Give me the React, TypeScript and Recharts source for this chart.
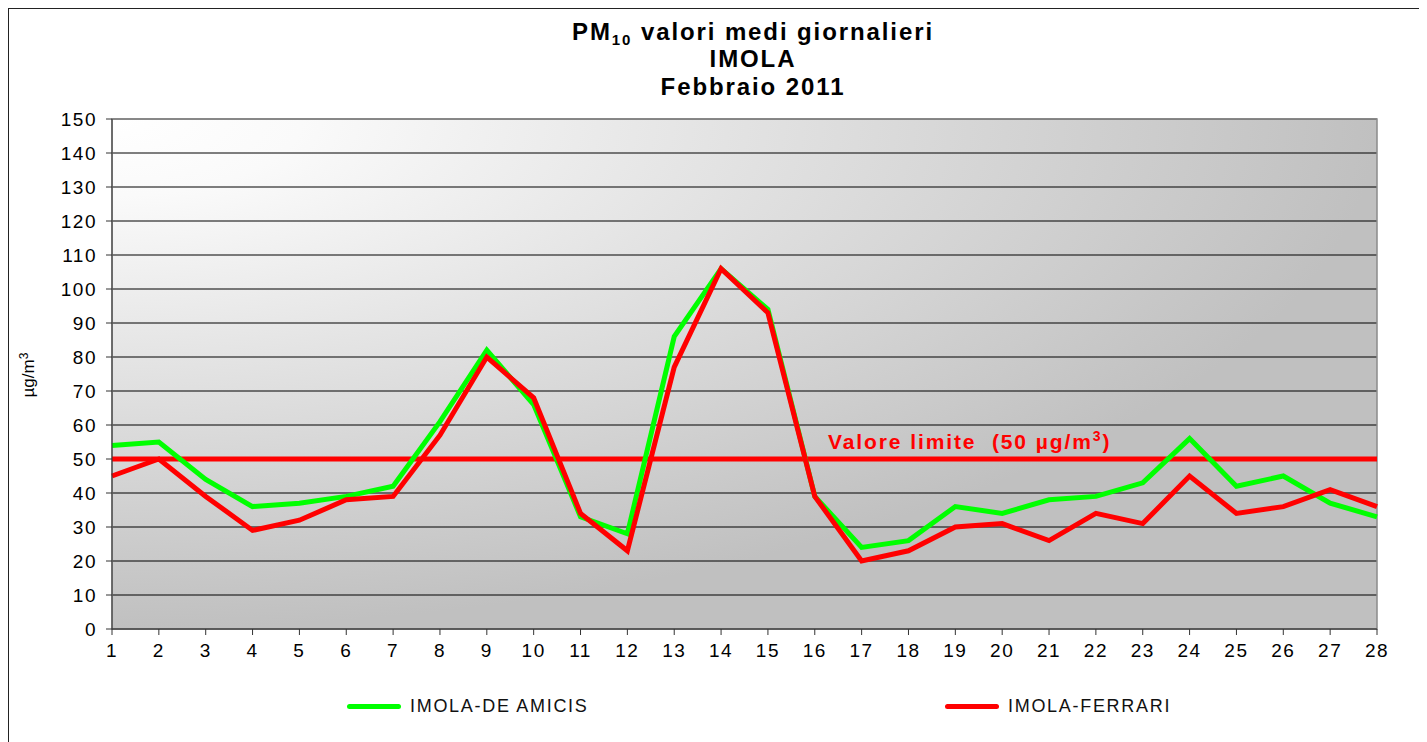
import {
    LineChart, Line, XAxis, YAxis, CartesianGrid, Legend,
    ReferenceLine, ReferenceArea, Customized,
} from 'recharts'

const FONT = '"Liberation Sans", Arial, sans-serif'

const days = [1, 2, 3, 4, 5, 6, 7, 8, 9, 10, 11, 12, 13, 14, 15, 16, 17, 18, 19, 20, 21, 22, 23, 24, 25, 26, 27, 28]
const deAmicis = [54, 55, 44, 36, 37, 39, 42, 61, 82, 66, 33, 28, 86, 106, 94, 39, 24, 26, 36, 34, 38, 39, 43, 56, 42, 45, 37, 33]
const ferrari = [45, 50, 39, 29, 32, 38, 39, 57, 80, 68, 34, 23, 77, 106, 93, 39, 20, 23, 30, 31, 26, 34, 31, 45, 34, 36, 41, 36]
const yTicks = [0, 10, 20, 30, 40, 50, 60, 70, 80, 90, 100, 110, 120, 130, 140, 150]
const LIMIT = 50

const series = [
    { key: 'deAmicis', label: 'IMOLA-DE AMICIS', color: '#00ff00' },
    { key: 'ferrari', label: 'IMOLA-FERRARI', color: '#ff0000' },
]

const data = days.map((d, i) => ({ day: d, deAmicis: deAmicis[i], ferrari: ferrari[i] }))

const W = 1412
const H = 740

function Titles() {
    const t = { textAnchor: 'middle' as const, fontSize: 24, fontWeight: 'bold', letterSpacing: 1.9 }
    return (
        <g fontFamily={FONT} fill="#000">
            <text x={744} y={31} {...t}>
                PM<tspan fontSize={15} dy={5}>10</tspan><tspan dy={-5}> valori medi giornalieri</tspan>
            </text>
            <text x={744} y={58} {...t}>IMOLA</text>
            <text x={744} y={86} {...t}>Febbraio 2011</text>
            <text x={25} y={366} textAnchor="middle" fontSize={17} transform="rotate(-90 25 366)">
                µg/m<tspan fontSize={12} dy={-6}>3</tspan>
            </text>
        </g>
    )
}

function LimitLabel({ viewBox }: any) {
    if (!viewBox) return null
    return (
        <text x={viewBox.x + 716} y={viewBox.y - 10} fill="#ff0000" fontSize={21} fontWeight="bold"
            fontFamily={FONT} letterSpacing={1.9} style={{ whiteSpace: 'pre' }}>
            {'Valore limite  (50 µg/m'}<tspan fontSize={14} dy={-8}>3</tspan><tspan dy={8}>)</tspan>
        </text>
    )
}

function LegendBox() {
    const pos = [338, 936]
    return (
        <div style={{ position: 'relative', width: W, height: 30, fontFamily: FONT }}>
            {series.map((s, i) => (
                <div key={s.key}>
                    <div style={{ position: 'absolute', left: pos[i], top: 13, width: 54, height: 5, borderRadius: 3, background: s.color }} />
                    <div style={{ position: 'absolute', left: pos[i] + 63, top: 0, lineHeight: '30px', fontSize: 18, letterSpacing: 1.7, color: '#111' }}>
                        {s.label}
                    </div>
                </div>
            ))}
        </div>
    )
}

export default function App() {
    const tickStyle = { fontSize: 19, fill: '#000', fontFamily: FONT, letterSpacing: 1.5 }
    return (
        <div style={{ width: W, height: H, border: '1px solid #222', background: '#fff' }}>
            <LineChart width={W} height={H} data={data} margin={{ top: 110, right: 44, left: 43, bottom: 40 }}>
                <defs>
                    <radialGradient id="plotBg" cx="0" cy="0" r="1" fx="0" fy="0">
                        <stop offset="0" stopColor="#ffffff" />
                        <stop offset="0.15" stopColor="#fafafa" />
                        <stop offset="1" stopColor="#c0c0c0" />
                    </radialGradient>
                </defs>
                <CartesianGrid vertical={false} stroke="#000" strokeWidth={1} fill="url(#plotBg)" fillOpacity={1} />
                <ReferenceArea x1={1} x2={28} y1={0} y2={150} fill="none" fillOpacity={0} stroke="#8a8a8a" strokeWidth={1.5} />
                <XAxis
                    dataKey="day"
                    interval={0}
                    height={50}
                    tickSize={6}
                    tickMargin={9}
                    axisLine={{ stroke: '#333' }}
                    tickLine={{ stroke: '#333' }}
                    tick={tickStyle}
                />
                <YAxis
                    domain={[0, 150]}
                    ticks={yTicks}
                    interval={0}
                    width={60}
                    tickSize={6}
                    tickMargin={9}
                    axisLine={{ stroke: '#333' }}
                    tickLine={{ stroke: '#333' }}
                    tick={tickStyle}
                />
                <ReferenceLine y={LIMIT} stroke="#ff0000" strokeWidth={5} label={<LimitLabel />} />
                {series.map(s => (
                    <Line
                        key={s.key}
                        type="linear"
                        dataKey={s.key}
                        name={s.label}
                        stroke={s.color}
                        strokeWidth={5}
                        dot={false}
                        activeDot={false}
                        isAnimationActive={false}
                    />
                ))}
                <Legend
                    verticalAlign="bottom"
                    content={() => <LegendBox />}
                    wrapperStyle={{ left: 0, bottom: 28, width: W, height: 30 }}
                />
                <Customized component={Titles} />
            </LineChart>
        </div>
    )
}
